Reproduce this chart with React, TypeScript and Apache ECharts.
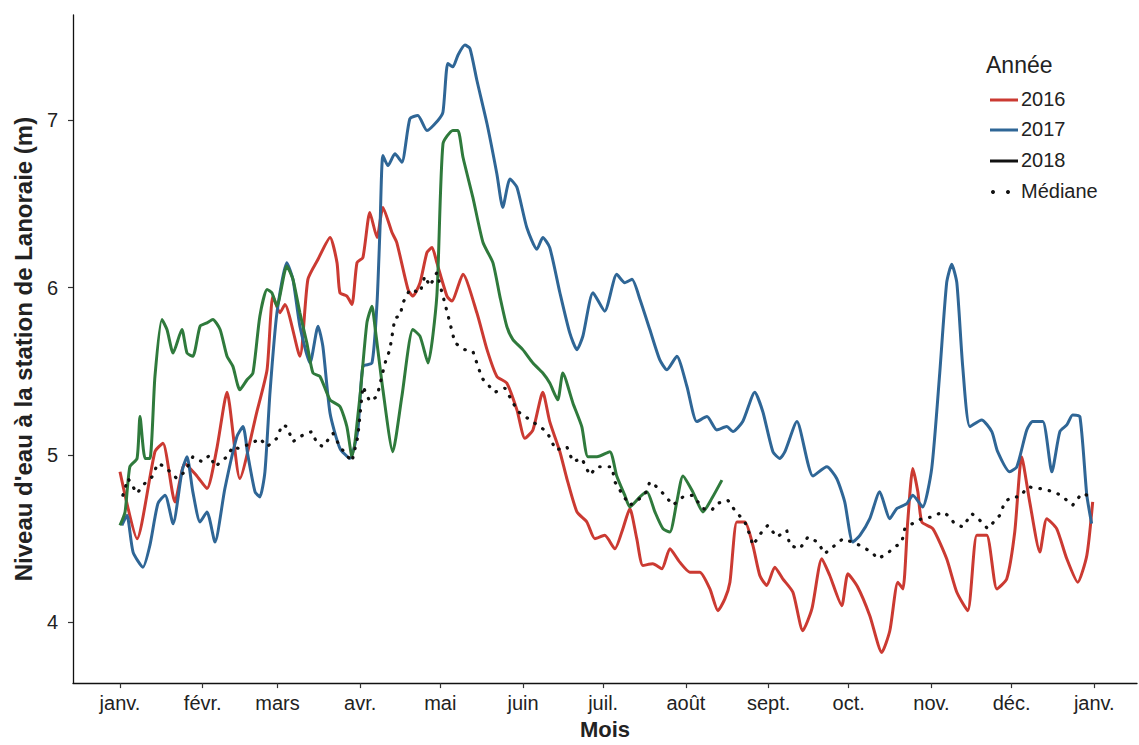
import React, { useEffect, useRef } from "react";
import * as echarts from "echarts";

// Day of year (0 = 1 Jan) and water level (m)
const monthStarts = [0, 31, 59, 90, 120, 151, 181, 212, 243, 273, 304, 334, 365];
const monthLabels = ["janv.", "févr.", "mars", "avr.", "mai", "juin", "juil.", "août", "sept.", "oct.", "nov.", "déc.", "janv."];
const yTicks = [4, 5, 6, 7];

const days2016 = [0, 6.4, 13.1, 16.1, 20.6, 24.3, 28.8, 32.6, 36.3, 40.1, 44.9, 51.3, 55.1, 57.3, 59.9, 61.8, 67.4, 70.4, 74.2, 78.7, 81.3, 82.4, 85.0, 86.9, 88.8, 91.0, 93.6, 96.3, 98.5, 101.9, 103.7, 107.9, 109.7, 112.4, 115.0, 116.9, 118.7, 122.5, 124.3, 128.5, 133.7, 137.5, 141.2, 144.9, 148.7, 151.7, 154.7, 158.4, 161.0, 164.8, 167.4, 171.2, 174.9, 177.9, 181.6, 185.4, 188.4, 191.0, 193.6, 195.9, 199.6, 203.0, 206.0, 209.7, 213.5, 217.2, 221.0, 224.0, 226.6, 228.5, 231.1, 234.1, 237.1, 239.7, 242.3, 245.3, 248.3, 252.1, 255.8, 259.2, 262.9, 265.9, 270.4, 272.7, 276.4, 280.9, 285.4, 288.4, 291.4, 293.3, 295.1, 297.0, 298.9, 300.4, 304.5, 309.7, 313.5, 317.6, 321.0, 324.7, 328.5, 332.2, 335.2, 337.8, 340.8, 344.6, 347.2, 350.9, 354.7, 358.8, 362.2, 364.4];
const level2016 = [4.90, 4.50, 5.02, 5.07, 4.72, 4.95, 4.875, 4.80, 5.04, 5.375, 4.86, 5.26, 5.51, 5.95, 5.85, 5.90, 5.59, 6.05, 6.17, 6.30, 6.15, 5.97, 5.95, 5.90, 6.15, 6.18, 6.45, 6.30, 6.48, 6.33, 6.27, 5.99, 5.95, 6.03, 6.21, 6.24, 6.15, 5.95, 5.92, 6.08, 5.85, 5.63, 5.47, 5.43, 5.27, 5.10, 5.15, 5.375, 5.20, 5.02, 4.86, 4.66, 4.60, 4.50, 4.52, 4.44, 4.56, 4.68, 4.50, 4.34, 4.35, 4.32, 4.44, 4.36, 4.30, 4.30, 4.20, 4.07, 4.14, 4.24, 4.60, 4.60, 4.46, 4.28, 4.22, 4.33, 4.26, 4.18, 3.95, 4.08, 4.38, 4.28, 4.10, 4.29, 4.21, 4.04, 3.82, 3.95, 4.24, 4.20, 4.60, 4.92, 4.78, 4.60, 4.56, 4.38, 4.18, 4.07, 4.52, 4.52, 4.20, 4.26, 4.54, 4.99, 4.72, 4.42, 4.62, 4.56, 4.38, 4.24, 4.40, 4.72];

const days2017 = [0.7, 2.6, 4.9, 8.6, 11.2, 14.2, 16.9, 19.9, 23.2, 25.1, 27.3, 30.0, 32.6, 35.6, 39.3, 43.8, 46.1, 47.9, 50.6, 52.4, 54.3, 56.2, 58.8, 62.5, 64.8, 67.4, 71.2, 74.2, 76.0, 78.7, 82.4, 86.1, 89.1, 91.0, 94.4, 96.3, 97.4, 98.5, 100.4, 103.0, 105.6, 108.6, 111.6, 115.0, 119.1, 121.0, 122.8, 124.7, 126.6, 129.2, 131.1, 133.7, 137.5, 141.2, 143.4, 146.1, 148.7, 152.4, 156.2, 158.4, 161.0, 164.8, 168.5, 171.2, 173.4, 177.2, 181.6, 186.1, 189.1, 191.8, 194.8, 198.5, 202.2, 204.9, 208.6, 212.4, 216.1, 219.9, 223.6, 227.3, 229.6, 233.3, 237.8, 240.8, 244.6, 247.2, 249.1, 253.6, 259.6, 264.8, 268.5, 271.5, 274.5, 277.2, 280.9, 284.6, 288.4, 291.0, 294.8, 297.0, 300.7, 304.1, 307.1, 309.7, 311.6, 313.5, 315.7, 318.4, 322.8, 326.6, 328.8, 333.3, 336.0, 339.7, 341.9, 345.7, 349.1, 352.1, 354.7, 356.9, 359.6, 362.2, 364.0];
const level2017 = [4.58, 4.64, 4.42, 4.33, 4.46, 4.71, 4.76, 4.59, 4.90, 4.99, 4.78, 4.60, 4.66, 4.48, 4.80, 5.11, 5.17, 5.00, 4.78, 4.75, 4.90, 5.375, 5.85, 6.15, 6.05, 5.77, 5.55, 5.77, 5.65, 5.25, 5.04, 4.98, 5.15, 5.53, 5.55, 5.91, 6.35, 6.79, 6.73, 6.80, 6.75, 7.01, 7.03, 6.94, 7.00, 7.05, 7.34, 7.32, 7.39, 7.45, 7.43, 7.24, 6.98, 6.68, 6.48, 6.65, 6.60, 6.36, 6.23, 6.30, 6.24, 5.97, 5.73, 5.63, 5.71, 5.97, 5.86, 6.08, 6.03, 6.05, 5.93, 5.75, 5.57, 5.51, 5.59, 5.41, 5.20, 5.23, 5.15, 5.17, 5.14, 5.20, 5.375, 5.26, 5.02, 4.98, 5.02, 5.20, 4.875, 4.93, 4.86, 4.72, 4.48, 4.52, 4.62, 4.78, 4.62, 4.68, 4.71, 4.76, 4.69, 4.92, 5.49, 6.03, 6.14, 6.03, 5.53, 5.17, 5.21, 5.14, 5.02, 4.90, 4.93, 5.15, 5.20, 5.20, 4.90, 5.14, 5.18, 5.24, 5.23, 4.76, 4.59];

const days2018 = [0, 1.9, 3.7, 6.4, 7.5, 9.4, 11.2, 13.1, 15.7, 17.6, 19.9, 23.2, 25.1, 27.3, 30.0, 32.6, 34.8, 37.5, 40.1, 42.3, 44.9, 47.6, 49.8, 52.4, 55.1, 56.9, 58.8, 62.5, 64.8, 67.4, 70.0, 72.3, 74.9, 78.7, 82.4, 85.0, 86.9, 89.9, 92.5, 94.4, 95.5, 98.5, 102.2, 105.6, 109.7, 112.4, 115.4, 118.7, 121.0, 124.7, 126.6, 128.5, 132.2, 136.0, 139.7, 142.3, 144.9, 147.2, 150.9, 154.7, 158.4, 161.0, 164.0, 165.9, 169.7, 173.0, 175.3, 178.7, 183.5, 186.1, 189.1, 191.0, 194.8, 197.4, 200.4, 203.4, 206.0, 208.6, 210.9, 214.6, 218.4, 221.7, 225.5];
const level2018 = [4.58, 4.66, 4.93, 4.98, 5.23, 4.98, 4.98, 5.47, 5.81, 5.75, 5.61, 5.75, 5.61, 5.59, 5.77, 5.79, 5.81, 5.75, 5.59, 5.53, 5.39, 5.45, 5.49, 5.83, 5.99, 5.97, 5.89, 6.13, 6.05, 5.85, 5.67, 5.49, 5.47, 5.33, 5.29, 5.17, 4.99, 5.35, 5.79, 5.89, 5.77, 5.39, 5.02, 5.35, 5.75, 5.71, 5.55, 5.95, 6.86, 6.94, 6.94, 6.78, 6.54, 6.27, 6.15, 5.95, 5.77, 5.69, 5.63, 5.55, 5.49, 5.43, 5.33, 5.49, 5.31, 5.17, 4.99, 4.99, 5.02, 4.875, 4.76, 4.69, 4.75, 4.78, 4.66, 4.56, 4.54, 4.72, 4.875, 4.78, 4.66, 4.74, 4.85];

const daysMedian = [1.1, 3.0, 6.4, 8.6, 12.0, 14.2, 16.9, 18.7, 21.3, 24.3, 27.3, 30.7, 33.7, 35.6, 40.1, 42.3, 44.2, 49.4, 52.4, 55.1, 58.8, 60.7, 62.5, 64.8, 67.4, 70.0, 71.9, 73.8, 76.0, 79.8, 82.4, 86.9, 89.1, 91.0, 93.6, 96.3, 99.3, 101.1, 103.0, 104.9, 106.0, 108.6, 112.4, 114.2, 116.1, 118.7, 122.8, 125.5, 129.2, 132.2, 135.6, 140.4, 144.2, 149.1, 153.6, 159.9, 163.3, 167.4, 169.7, 173.0, 176.0, 178.7, 184.3, 185.4, 188.4, 191.0, 196.6, 198.5, 200.4, 204.1, 207.1, 210.9, 214.6, 218.4, 221.7, 223.6, 227.7, 230.3, 234.1, 236.0, 237.1, 240.4, 242.7, 246.1, 249.8, 250.9, 254.7, 257.7, 261.4, 264.0, 267.8, 270.8, 274.2, 277.2, 281.6, 283.9, 287.3, 290.3, 292.9, 294.0, 297.8, 300.4, 304.1, 308.2, 310.1, 312.7, 315.7, 319.1, 322.1, 325.1, 329.6, 331.5, 334.1, 337.1, 340.1, 344.6, 347.2, 350.2, 353.2, 356.9, 360.3, 364.4];
const levelMedian = [4.76, 4.86, 4.77, 4.82, 4.87, 4.95, 4.93, 4.90, 4.86, 4.90, 4.99, 4.96, 5.00, 4.93, 4.99, 5.05, 5.04, 5.07, 5.10, 5.05, 5.10, 5.18, 5.17, 5.08, 5.11, 5.13, 5.14, 5.07, 5.05, 5.13, 5.05, 4.96, 5.11, 5.41, 5.32, 5.35, 5.55, 5.63, 5.82, 5.83, 5.91, 5.99, 5.97, 6.07, 6.01, 6.09, 5.84, 5.67, 5.63, 5.62, 5.46, 5.375, 5.40, 5.26, 5.21, 5.14, 5.03, 5.05, 4.96, 4.98, 4.88, 4.93, 4.93, 4.84, 4.76, 4.70, 4.76, 4.84, 4.82, 4.76, 4.70, 4.75, 4.76, 4.68, 4.67, 4.71, 4.73, 4.67, 4.60, 4.52, 4.46, 4.54, 4.58, 4.51, 4.55, 4.46, 4.44, 4.51, 4.48, 4.41, 4.46, 4.50, 4.48, 4.46, 4.42, 4.38, 4.41, 4.45, 4.48, 4.56, 4.60, 4.62, 4.63, 4.66, 4.64, 4.59, 4.57, 4.65, 4.61, 4.56, 4.64, 4.72, 4.75, 4.75, 4.81, 4.80, 4.79, 4.78, 4.75, 4.70, 4.77, 4.75];

const seriesNames = ["2016", "2017", "2018", "Médiane"];

const pair = (d: number[], v: number[]) => d.map((x, i) => [x, v[i]]);

const FONT = "'Liberation Sans', Arial, Helvetica, sans-serif";
const RED = "#cb3a32";
const BLUE = "#2f6696";
const GREEN = "#2f7a3c";

export default function App() {
  const ref = useRef<HTMLDivElement>(null);
  useEffect(() => {
    if (!ref.current) return;
    const chart = echarts.init(ref.current, undefined, { renderer: "svg" });
    const legendY = [100, 130, 161, 192];
    const legendColors = [RED, BLUE, "#111111", "#111111"];
    const legendGraphics: any[] = [
      {
        type: "text",
        left: 986,
        top: 53,
        style: { text: "Année", font: `23px ${FONT}`, fill: "#222" },
      },
    ];
    seriesNames.forEach((name, i) => {
      if (i < 3) {
        legendGraphics.push({
          type: "line",
          shape: { x1: 990, y1: legendY[i], x2: 1018, y2: legendY[i] },
          style: { stroke: legendColors[i], lineWidth: 3 },
        });
      } else {
        legendGraphics.push({ type: "circle", shape: { cx: 993, cy: legendY[i], r: 2 }, style: { fill: "#111" } });
        legendGraphics.push({ type: "circle", shape: { cx: 1008, cy: legendY[i], r: 2 }, style: { fill: "#111" } });
      }
      legendGraphics.push({
        type: "text",
        left: 1021,
        top: legendY[i] - 11,
        style: { text: name, font: `20px ${FONT}`, fill: "#222" },
      });
    });

    chart.setOption({
      animation: false,
      backgroundColor: "#ffffff",
      grid: { left: 73, right: 2, top: 15, bottom: 60, containLabel: false },
      xAxis: {
        type: "value",
        min: -17.6,
        max: 381,
        name: "Mois",
        nameLocation: "middle",
        nameGap: 34,
        nameTextStyle: { fontFamily: FONT, fontSize: 22, fontWeight: "bold", color: "#222" },
        axisLine: { show: true, onZero: false, lineStyle: { color: "#111", width: 1.3 } },
        axisTick: { show: true, length: 5, lineStyle: { color: "#333", width: 1.2 }, customValues: monthStarts },
        axisLabel: {
          customValues: monthStarts,
          margin: 10,
          fontFamily: FONT,
          fontSize: 20,
          color: "#222",
          formatter: (v: number) => {
            const i = monthStarts.indexOf(Math.round(v));
            return i >= 0 ? monthLabels[i] : "";
          },
        },
        splitLine: { show: false },
      },
      yAxis: {
        type: "value",
        min: 3.637,
        max: 7.63,
        name: "Niveau d'eau à la station de Lanoraie (m)",
        nameLocation: "middle",
        nameGap: 38,
        nameTextStyle: { fontFamily: FONT, fontSize: 24, fontWeight: "bold", color: "#222" },
        axisLine: { show: true, onZero: false, lineStyle: { color: "#111", width: 1.3 } },
        axisTick: { show: true, length: 5, lineStyle: { color: "#333", width: 1.2 }, customValues: yTicks },
        axisLabel: {
          customValues: yTicks,
          margin: 15,
          fontFamily: FONT,
          fontSize: 20,
          color: "#222",
        },
        splitLine: { show: false },
      },
      series: [
        {
          name: seriesNames[0],
          type: "line",
          data: pair(days2016, level2016),
          showSymbol: false,
          smooth: 0.2,
          lineStyle: { color: RED, width: 3 },
          itemStyle: { color: RED },
        },
        {
          name: seriesNames[1],
          type: "line",
          data: pair(days2017, level2017),
          showSymbol: false,
          smooth: 0.2,
          lineStyle: { color: BLUE, width: 3 },
          itemStyle: { color: BLUE },
        },
        {
          name: seriesNames[2],
          type: "line",
          data: pair(days2018, level2018),
          showSymbol: false,
          smooth: 0.2,
          lineStyle: { color: GREEN, width: 3 },
          itemStyle: { color: GREEN },
        },
        {
          name: seriesNames[3],
          type: "line",
          data: pair(daysMedian, levelMedian),
          showSymbol: false,
          lineStyle: { color: "#111", width: 3.2, type: [0.5, 9], cap: "round" },
          itemStyle: { color: "#111" },
        },
      ],
      graphic: legendGraphics,
    });
    return () => chart.dispose();
  }, []);
  return (
    <div
      ref={ref}
      style={{ position: "fixed", left: 0, top: 0, width: 1139, height: 745, background: "#fff" }}
    />
  );
}
